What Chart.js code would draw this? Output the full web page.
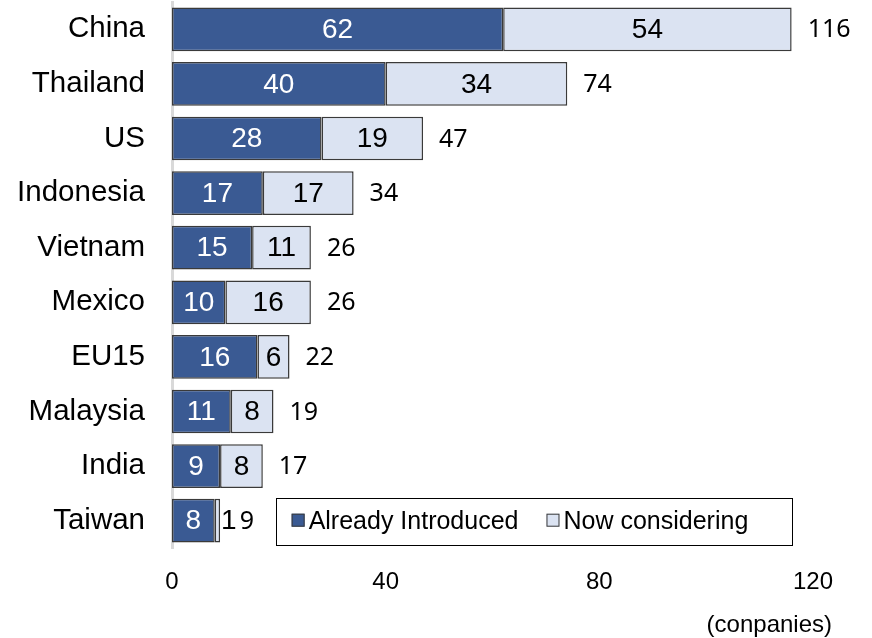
<!DOCTYPE html>
<html>
<head>
<meta charset="utf-8">
<script src="https://cdn.jsdelivr.net/npm/chart.js@4.4.1/dist/chart.umd.min.js"></script>
<style>
  html, body { margin: 0; padding: 0; background: #ffffff; }
  #wrap { width: 872px; height: 638px; position: relative; }
</style>
</head>
<body>
<div id="wrap"><canvas id="chart" width="872" height="638"></canvas></div>
<script>
// Countries and number of companies per status
const categories = ['China', 'Thailand', 'US', 'Indonesia', 'Vietnam', 'Mexico', 'EU15', 'Malaysia', 'India', 'Taiwan'];
const alreadyIntroduced = [62, 40, 28, 17, 15, 10, 16, 11, 9, 8];
const nowConsidering = [54, 34, 19, 17, 11, 16, 6, 8, 8, 1];
const xTicks = [0, 40, 80, 120];
const seriesNames = ['Already Introduced', 'Now considering'];
const unitLabel = '(conpanies)';

const DARK = '#3a5a93';
const LIGHT = '#dbe3f2';
const EDGE = '#3a3a3a';
const SANS = '"Liberation Sans", Arial, sans-serif';
const TOTAL_FONT = '"Noto Sans", "Open Sans", sans-serif';

// Value labels inside the bars and totals to the right of each stack
const barLabels = {
  id: 'barLabels',
  afterDatasetsDraw(chart) {
    const ctx = chart.ctx;
    const m0 = chart.getDatasetMeta(0);
    const m1 = chart.getDatasetMeta(1);
    ctx.save();
    ctx.textBaseline = 'middle';
    categories.forEach((c, i) => {
      const a = m0.data[i], b = m1.data[i];
      const y = a.y + 1;
      ctx.font = '28px ' + SANS;
      // dark segment
      ctx.fillStyle = '#ffffff';
      ctx.textAlign = 'center';
      ctx.fillText(String(alreadyIntroduced[i]), (a.base + a.x) / 2, y);
      // light segment
      const txt = String(nowConsidering[i]);
      const tw = ctx.measureText(txt).width;
      const segW = b.x - b.base;
      let rightEdge = b.x;
      ctx.fillStyle = '#000000';
      if (segW > tw + 4) {
        ctx.textAlign = 'center';
        ctx.fillText(txt, (b.base + b.x) / 2, y);
      } else {
        ctx.textAlign = 'left';
        ctx.fillText(txt, b.x + 1, y);
        rightEdge = b.x + 1 + tw;
      }
      // total
      const total = alreadyIntroduced[i] + nowConsidering[i];
      ctx.font = '25px ' + TOTAL_FONT;
      ctx.textAlign = 'left';
      ctx.fillText(String(total), Math.max(b.x + 16, rightEdge + 3), y);
    });
    ctx.restore();
  }
};

// Boxed legend inside the plot area, plus the unit note under the axis
const boxedLegend = {
  id: 'boxedLegend',
  afterDraw(chart) {
    const ctx = chart.ctx;
    const x = chart.scales.x;
    const yScale = chart.scales.y;
    const left = x.getPixelForValue(19.4);
    const right = x.getPixelForValue(116.0);
    const cy = yScale.getPixelForValue(categories.length - 1);
    const top = cy - 23, h = 47;
    ctx.save();
    ctx.fillStyle = '#ffffff';
    ctx.fillRect(left, top, right - left, h);
    ctx.strokeStyle = '#000000';
    ctx.lineWidth = 1;
    ctx.strokeRect(Math.round(left) + 0.5, Math.round(top) + 0.5, Math.round(right - left), h);
    ctx.font = '25px ' + SANS;
    ctx.textBaseline = 'middle';
    ctx.textAlign = 'left';
    const colors = [DARK, LIGHT];
    let px = left + 16;
    seriesNames.forEach((name, k) => {
      ctx.fillStyle = colors[k];
      ctx.fillRect(px, cy - 7, 13, 13);
      ctx.strokeStyle = EDGE;
      ctx.lineWidth = 1;
      ctx.strokeRect(px + 0.5, cy - 6.5, 12, 12);
      ctx.fillStyle = '#000000';
      ctx.fillText(name, px + 17, cy + 1);
      px += 17 + ctx.measureText(name).width + 28;
    });
    // unit note
    ctx.font = '24px ' + SANS;
    ctx.textAlign = 'right';
    ctx.fillText(unitLabel, 832, 625);
    ctx.restore();
  }
};

new Chart(document.getElementById('chart'), {
  type: 'bar',
  data: {
    labels: categories,
    datasets: [
      { label: seriesNames[0], data: alreadyIntroduced, backgroundColor: DARK, borderColor: EDGE, borderWidth: 1.5, borderSkipped: false },
      { label: seriesNames[1], data: nowConsidering, backgroundColor: LIGHT, borderColor: EDGE, borderWidth: 1.5, borderSkipped: false }
    ]
  },
  options: {
    indexAxis: 'y',
    responsive: false,
    animation: false,
    devicePixelRatio: 1,
    layout: { padding: { left: 0, right: 59, top: 2, bottom: 0 } },
    datasets: { bar: { categoryPercentage: 1.0, barPercentage: 0.8 } },
    plugins: { legend: { display: false }, tooltip: { enabled: false } },
    scales: {
      x: {
        stacked: true,
        min: 0,
        max: 120,
        afterBuildTicks(s) { s.ticks = xTicks.map(v => ({ value: v })); },
        afterFit(s) { s.height = 90; s.paddingLeft = 0; s.paddingRight = 0; },
        grid: { display: false, drawTicks: false },
        border: { display: false },
        ticks: { color: '#000000', font: { family: SANS, size: 24 }, padding: 20, maxRotation: 0 }
      },
      y: {
        stacked: true,
        afterFit(s) { s.width = 172; s.paddingTop = 0; s.paddingBottom = 0; },
        grid: { display: false, drawTicks: false },
        border: { display: true, color: '#d9d9d9', width: 3 },
        ticks: { color: '#000000', font: { family: SANS, size: 29.5 }, padding: 27, autoSkip: false }
      }
    }
  },
  plugins: [barLabels, boxedLegend]
});
</script>
</body>
</html>
